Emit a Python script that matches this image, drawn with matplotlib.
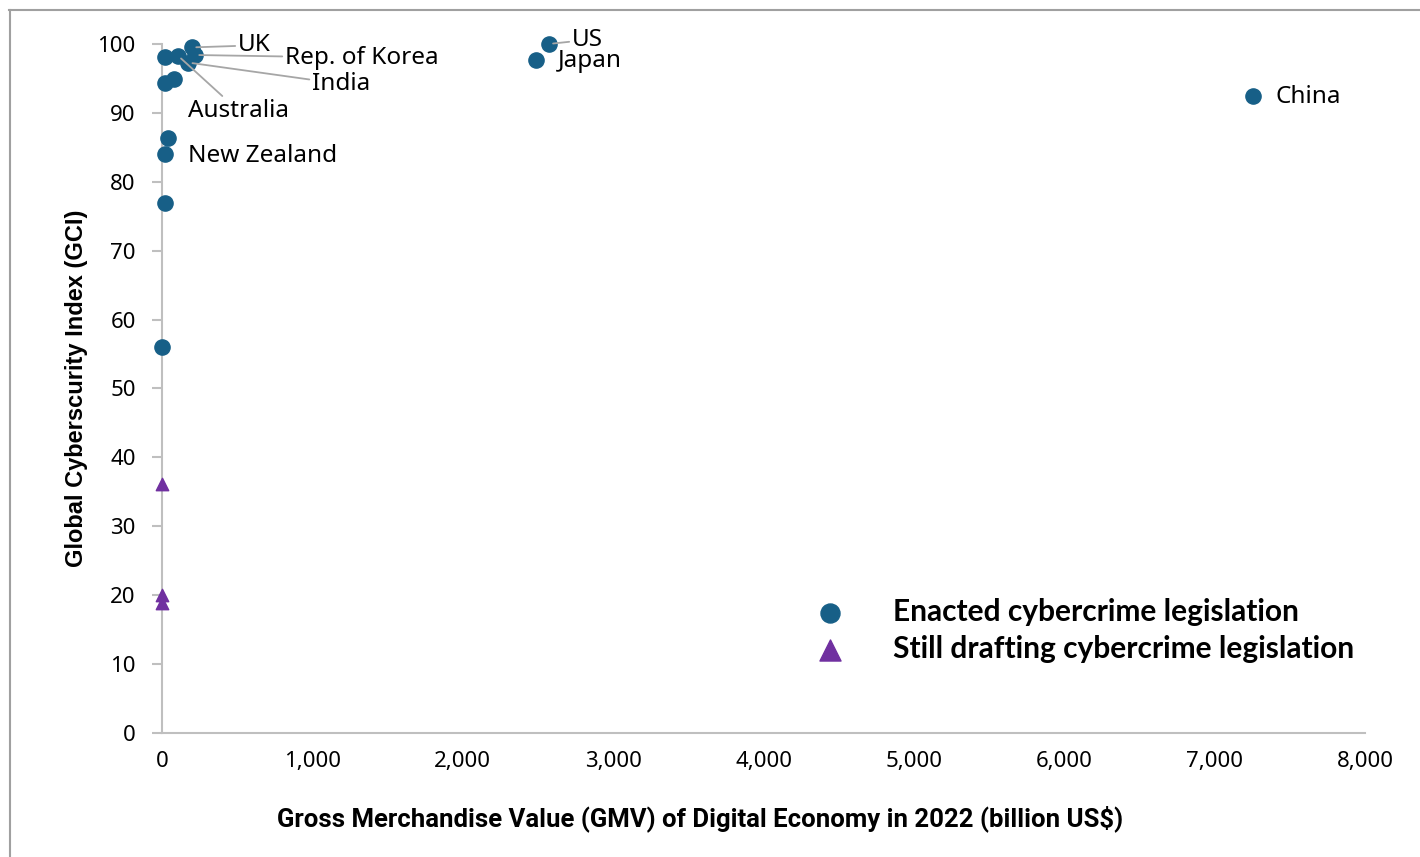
import matplotlib
matplotlib.use("Agg")
import matplotlib.pyplot as plt
from matplotlib.lines import Line2D
from matplotlib.ticker import FuncFormatter

# GMV of digital economy 2022 (billion US$) vs GCI score
enacted_gmv = [20, 106, 200, 220, 175, 80, 20, 40, 20, 20, 2, 2573, 2487, 7254]
enacted_gci = [98.1, 98.3, 99.5, 98.4, 97.3, 94.9, 94.4, 86.3, 84.0, 76.9, 56.0, 100.0, 97.7, 92.4]
drafting_gmv = [1, 1, 1]
drafting_gci = [36.2, 20.0, 18.9]

# labelled points: (name, index into enacted arrays, text x, text y)
labels = ["UK", "Rep. of Korea", "India", "Australia", "New Zealand", "US", "Japan", "China"]
label_idx = [2, 3, 4, 1, 8, 11, 12, 13]
label_x = [505, 818, 998, 173, 173, 2726, 2633, 7407]
label_y = [99.8, 98.0, 94.2, 90.3, 83.7, 100.6, 97.5, 92.3]
leader = [True, True, True, True, False, True, False, False]

blue = "#175f87"
purple = "#7030a0"
grey = "#bfbfbf"

fig = plt.figure(figsize=(14.2, 8.57), dpi=100)
ax = fig.add_axes([0.1141, 0.1447, 0.8472, 0.804])

ax.scatter(enacted_gmv, enacted_gci, s=120, color=blue, zorder=3, clip_on=False,
           label="Enacted cybercrime legislation")
ax.scatter(drafting_gmv, drafting_gci, s=80, marker="^", color=purple, zorder=3, clip_on=False,
           label="Still drafting cybercrime legislation")

for name, i, tx, ty, ld in zip(labels, label_idx, label_x, label_y, leader):
    props = dict(arrowstyle="-", color="#a6a6a6", lw=1.3, shrinkA=0, shrinkB=3) if ld else None
    ax.annotate(name, xy=(enacted_gmv[i], enacted_gci[i]), xytext=(tx, ty),
                ha="left", va="center", fontsize=17.5, family="Noto Sans",
                arrowprops=props, zorder=4)

ax.set_xlim(0, 8000)
ax.set_ylim(0, 100)
ax.set_xticks(range(0, 8001, 1000))
ax.set_yticks(range(0, 101, 10))
ax.xaxis.set_major_formatter(FuncFormatter(lambda v, p: f"{int(v):,}"))

for s in ["top", "right"]:
    ax.spines[s].set_visible(False)
for s in ["left", "bottom"]:
    ax.spines[s].set_color(grey)
    ax.spines[s].set_linewidth(1.5)
ax.tick_params(axis="y", length=7, width=1.5, color=grey, pad=12, labelsize=16)
ax.tick_params(axis="x", length=0, pad=13, labelsize=16)
for t in ax.get_xticklabels() + ax.get_yticklabels():
    t.set_family("Noto Sans")

ax.set_xlabel("Gross Merchandise Value (GMV) of Digital Economy in 2022 (billion US$)",
              fontsize=18.5, fontweight="bold", family="Roboto")
ax.xaxis.set_label_coords(0.447, -0.105)
ax.set_ylabel("Global Cyberscurity Index (GCI)", fontsize=17, fontweight="bold",
              family="Liberation Sans", labelpad=7)

leg = ax.legend(loc="upper left", bbox_to_anchor=(0.508, 0.235), frameon=False,
                markerscale=1.25, handletextpad=1.1, labelspacing=0.3, borderpad=0.4,
                prop=dict(family="Lato", weight="bold", size=21.5))
leg.legend_handles[1].set_sizes([230])

# frame of the original report figure
fig.add_artist(Line2D([9 / 1420, 1], [1 - 10 / 857, 1 - 10 / 857], color="#a0a0a0", lw=1.5))
fig.add_artist(Line2D([10 / 1420, 10 / 1420], [0, 1 - 10 / 857], color="#a0a0a0", lw=1.5))

fig.savefig("out.png", dpi=100)
